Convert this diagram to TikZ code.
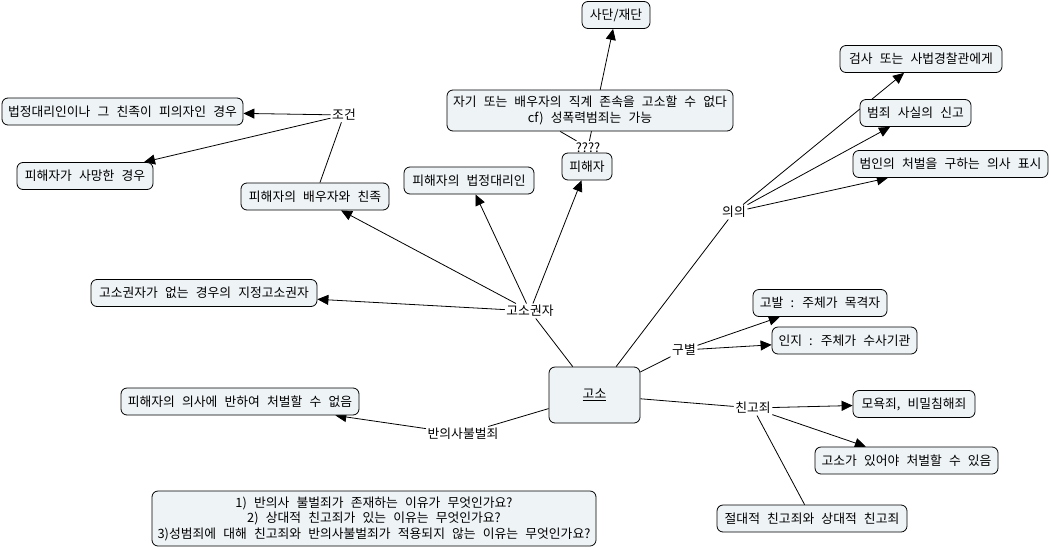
\documentclass[tikz,border=0pt]{standalone}
\usepackage{fontspec}
\newfontfamily\kr[WordSpace=2.5]{Noto Sans CJK KR}
\usetikzlibrary{arrows.meta,backgrounds}
\definecolor{boxfill}{HTML}{EEF3F6}
\pgfdeclarelayer{paper}
\pgfsetlayers{paper,background,main}
\begin{document}
\begin{tikzpicture}[x=1pt,y=-1pt,
  every node/.style={font=\kr\fontsize{12.8}{15.5}\selectfont},
  concept/.style={draw, rounded corners=6pt, fill=boxfill, line width=0.8pt, inner xsep=4pt, inner ysep=4pt, minimum height=27pt, align=center},
  link/.style={inner sep=1.5pt},
  conn/.style={line width=0.8pt},
  arr/.style={conn, -{Triangle[length=11pt,width=10pt]}}]
\useasboundingbox (0,0) rectangle (1051,549);
\begin{pgfonlayer}{paper}
\fill[white] (0,0) rectangle (1051,549);
\end{pgfonlayer}

\node[concept, minimum width=68pt] (sadan) at (616,15) {사단/재단};
\node[concept, minimum width=286pt, minimum height=41pt] (bigbox) at (590,110.5) {자기 또는 배우자의 직계 존속을 고소할 수 없다\\cf) 성폭력범죄는 가능};
\node[concept, minimum width=50pt] (victim) at (587,166.5) {피해자};
\node[link] (q) at (588,147.5) {????};

\node[concept, minimum width=162pt] (prosec) at (921,59) {검사 또는 사법경찰관에게};
\node[concept, minimum width=111pt] (report) at (915.5,113) {범죄 사실의 신고};
\node[concept, minimum width=195pt] (intent) at (950.5,164) {범인의 처벌을 구하는 의사 표시};
\node[link] (uiui) at (734,212) {의의};

\node[concept, minimum width=91pt, minimum height=56pt] (goso) at (594.5,395) {\underline{고소}};

\node[link] (holder) at (530,311) {고소권자};
\node[concept, minimum width=148pt] (spouse) at (315,196.5) {피해자의 배우자와 친족};
\node[concept, minimum width=130pt] (legal) at (469,180.5) {피해자의 법정대리인};
\node[concept, minimum width=226pt] (designated) at (204,293) {고소권자가 없는 경우의 지정고소권자};

\node[link] (cond) at (344,115) {조건};
\node[concept, minimum width=241pt] (suspect) at (122.5,111.5) {법정대리인이나 그 친족이 피의자인 경우};
\node[concept, minimum width=136pt] (dead) at (85,176) {피해자가 사망한 경우};

\node[link] (banui) at (463,434) {반의사불벌죄};
\node[concept, minimum width=238pt] (against) at (240,401.5) {피해자의 의사에 반하여 처벌할 수 없음};

\node[link] (gubyeol) at (684,350) {구별};
\node[concept, minimum width=134pt] (gobal) at (820,303) {고발 : 주체가 목격자};
\node[concept, minimum width=145pt] (inji) at (844.5,340.5) {인지 : 주체가 수사기관};

\node[link] (chingo) at (753,408) {친고죄};
\node[concept, minimum width=122pt] (insult) at (914,404) {모욕죄, 비밀침해죄};
\node[concept, minimum width=183pt] (needgoso) at (906.5,460.5) {고소가 있어야 처벌할 수 있음};
\node[concept, minimum width=190pt] (absrel) at (812,518.5) {절대적 친고죄와 상대적 친고죄};

\node[concept, minimum width=444pt, minimum height=55pt] (questions) at (374,518.5) {1) 반의사 불벌죄가 존재하는 이유가 무엇인가요?\\2) 상대적 친고죄가 있는 이유는 무엇인가요?\\3)성범죄에 대해 친고죄와 반의사불벌죄가 적용되지 않는 이유는 무엇인가요?};

\begin{scope}[on background layer]
\draw[conn] (goso) -- (holder);
\draw[arr] (holder) -- (spouse);
\draw[arr] (holder) -- (legal);
\draw[arr] (holder) -- (victim);
\draw[arr] (holder) -- (designated);
\draw[conn] (spouse) -- (cond);
\draw[arr] (cond) -- (suspect);
\draw[arr] (cond) -- (dead);
\draw[conn] (q) -- (bigbox.215);
\draw[arr] (q) -- (sadan);
\draw[conn] (goso) -- (uiui);
\draw[arr] (uiui) -- (prosec);
\draw[arr] (uiui) -- (report);
\draw[arr] (uiui) -- (intent);
\draw[conn] (goso) -- (banui);
\draw[arr] (banui) -- (against);
\draw[conn] (goso) -- (gubyeol);
\draw[arr] (gubyeol) -- (gobal);
\draw[arr] (gubyeol) -- (inji);
\draw[conn] (goso) -- (chingo);
\draw[arr] (chingo) -- (insult);
\draw[arr] (chingo) -- (needgoso);
\draw[conn] (chingo) -- (absrel);
\end{scope}
\end{tikzpicture}
\end{document}
